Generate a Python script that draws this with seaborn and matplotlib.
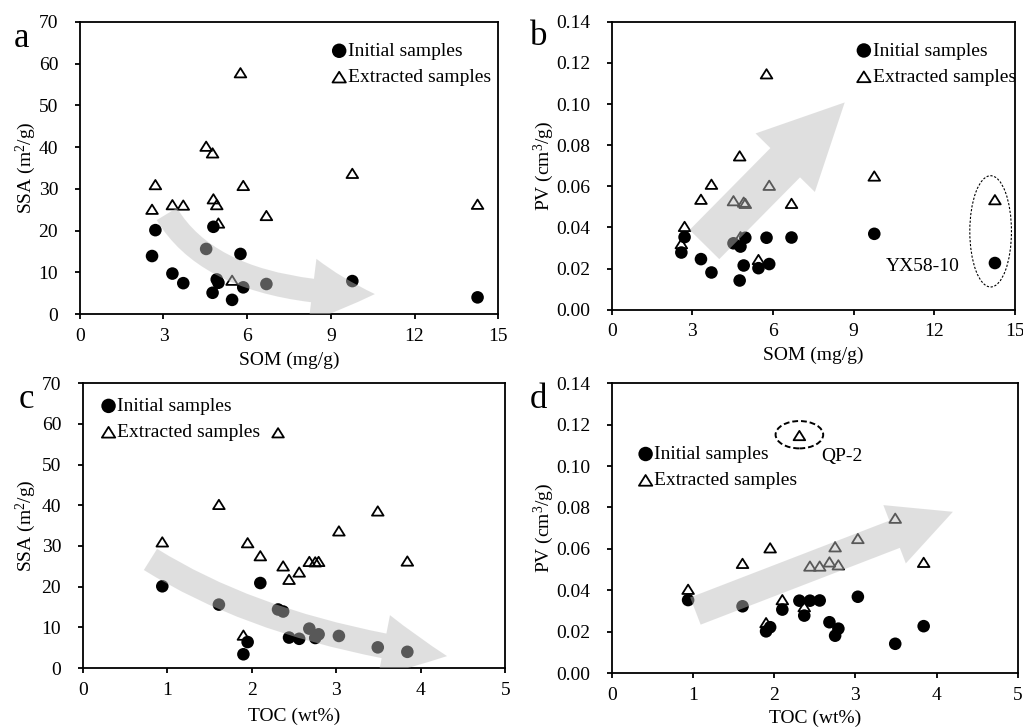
import numpy as np
import pandas as pd
import seaborn as sns
import matplotlib.pyplot as plt
from matplotlib.patches import FancyArrowPatch, ArrowStyle, Ellipse
from matplotlib.path import Path

# sample values (same 15 samples everywhere)
som = [2.59, 2.71, 3.32, 3.71, 4.53, 4.79, 4.76, 4.91, 4.97, 5.46, 5.76, 5.86, 6.69, 9.77, 14.26]
toc = [2.37, 0.94, 2.68, 2.75, 1.61, 2.10, 3.49, 2.79, 2.44, 1.90, 2.31, 1.95, 2.56, 3.03, 3.84]
ssa_initial = [13.9, 20.1, 9.7, 7.4, 15.6, 20.9, 5.1, 8.3, 7.5, 3.4, 14.4, 6.4, 7.2, 7.9, 4.0]
ssa_extracted = [25.1, 31.0, 26.2, 26.1, 40.2, 27.6, 38.6, 26.2, 21.8, 8.1, 57.8, 30.8, 23.6, 33.7, 26.3]
pv_initial = [0.0278, 0.0353, 0.0246, 0.0181, 0.0323, 0.0307, 0.0142, 0.0215, 0.0350, 0.0202,
              0.0350, 0.0222, 0.0351, 0.0369, 0.0227]
pv_extracted = [0.0321, 0.0405, 0.0537, 0.0610, 0.0530, 0.0355, 0.0748, 0.0523, 0.0517, 0.0244,
                0.1147, 0.0605, 0.0517, 0.0650, 0.0535]

som_ticks = [0, 3, 6, 9, 12, 15]
toc_ticks = [0, 1, 2, 3, 4, 5]
ssa_ticks = [0, 10, 20, 30, 40, 50, 60, 70]
pv_ticks = [0.00, 0.02, 0.04, 0.06, 0.08, 0.10, 0.12, 0.14]

LABEL_INIT = "Initial samples"
LABEL_EXT = "Extracted samples"

sns.set_style("ticks")
plt.rcParams['font.family'] = ['Liberation Serif', 'DejaVu Serif']
plt.rcParams['mathtext.fontset'] = 'custom'
plt.rcParams['mathtext.rm'] = 'Liberation Serif'
plt.rcParams['mathtext.it'] = 'Liberation Serif:italic'
plt.rcParams['text.color'] = 'black'
plt.rcParams['axes.labelcolor'] = 'black'
plt.rcParams['xtick.color'] = 'black'
plt.rcParams['ytick.color'] = 'black'

FS = 14
# hollow triangle a bit flatter than matplotlib's '^'
TRI = Path([(-1, -0.8), (1, -0.8), (0, 0.8), (-1, -0.8)],
           [Path.MOVETO, Path.LINETO, Path.LINETO, Path.CLOSEPOLY])
ARROW_COLOR = '#bdbdbd'
ARROW_ALPHA = 0.47


def panel(ax, x, y_init, y_ext, xticks, yticks, xlabel, ylabel, yfmt, leg_xy, ylab_x, xlab_y):
	df = pd.DataFrame({"x": x, "init": y_init, "ext": y_ext})
	# Extracted samples first so the filled circles sit on top
	sns.scatterplot(data=df, x="x", y="ext", ax=ax, marker=TRI, s=70, facecolor="none",
	                edgecolor="black", linewidth=1.3, label=LABEL_EXT, zorder=2)
	sns.scatterplot(data=df, x="x", y="init", ax=ax, marker="o", s=82, color="black",
	                edgecolor="none", linewidth=0, label=LABEL_INIT, zorder=3)
	ax.set_xlim(xticks[0], xticks[-1])
	ax.set_ylim(yticks[0], yticks[-1])
	ax.set_xticks(xticks)
	ax.set_yticks(yticks)
	ax.set_yticklabels([yfmt.format(v) for v in yticks])
	ax.tick_params(axis='both', labelsize=FS, direction='out', width=1.3, color='black')
	ax.tick_params(axis='y', length=3.6, pad=12)
	ax.tick_params(axis='x', length=3.8, pad=6)
	for sp in ax.spines.values():
		sp.set_color('black')
		sp.set_linewidth(1.3)
	ax.set_xlabel(xlabel, fontsize=FS)
	ax.set_ylabel(ylabel, fontsize=FS)
	ax.xaxis.set_label_coords(0.5, xlab_y)
	ax.yaxis.set_label_coords(ylab_x, 0.5)
	# Legend: Initial first, Extracted second
	h, l = ax.get_legend_handles_labels()
	order = [l.index(LABEL_INIT), l.index(LABEL_EXT)]
	ax.legend([h[i] for i in order], [l[i] for i in order], loc='upper left', bbox_to_anchor=leg_xy,
	          frameon=False, fontsize=FS, handlelength=0.6, handletextpad=0.15, labelspacing=0.45,
	          borderpad=0, borderaxespad=0, markerscale=1.15)


def add_arrow(ax, start, end, conn, head_len, head_w, tail_w):
	style = ArrowStyle.Simple(head_length=head_len, head_width=head_w, tail_width=tail_w)
	arr = FancyArrowPatch(start, end, arrowstyle=style, connectionstyle=conn, mutation_scale=1,
	                      shrinkA=0, shrinkB=0, facecolor=ARROW_COLOR, edgecolor='none', lw=0,
	                      alpha=ARROW_ALPHA, zorder=4)
	ax.add_patch(arr)


fig = plt.figure(figsize=(10.23, 7.27), dpi=100)
ax_a = fig.add_axes([0.078, 0.568, 0.409, 0.402])
ax_b = fig.add_axes([0.598, 0.574, 0.394, 0.396])
ax_c = fig.add_axes([0.081, 0.081, 0.413, 0.392])
ax_d = fig.add_axes([0.598, 0.074, 0.397, 0.399])

ssa_label = "SSA (m$^{2}$/g)"
pv_label = "PV (cm$^{3}$/g)"

panel(ax_a, som, ssa_initial, ssa_extracted, som_ticks, ssa_ticks, "SOM (mg/g)", ssa_label, "{:.0f}",
      (0.606, 0.93), -0.100, -0.129)
panel(ax_b, som, pv_initial, pv_extracted, som_ticks, pv_ticks, "SOM (mg/g)", pv_label, "{:.2f}",
      (0.611, 0.93), -0.139, -0.13)
panel(ax_c, toc, ssa_initial, ssa_extracted, toc_ticks, ssa_ticks, "TOC (wt%)", ssa_label, "{:.0f}",
      (0.047, 0.95), -0.106, -0.14)
panel(ax_d, toc, pv_initial, pv_extracted, toc_ticks, pv_ticks, "TOC (wt%)", pv_label, "{:.2f}",
      (0.069, 0.785), -0.138, -0.125)

# trend arrows (semi transparent, drawn over the points)
add_arrow(ax_a, (3.12, 23.97), (10.58, 4.79), "angle3,angleA=-59,angleB=0", 45, 46, 17)
add_arrow(ax_b, (3.45, 0.0317), (8.67, 0.1008), "arc3,rad=0", 61, 60, 30)
add_arrow(ax_c, (0.80, 26.7), (4.31, 2.95), "angle3,angleA=-32,angleB=-7.6", 46, 45, 18)
add_arrow(ax_d, (1.03, 0.0300), (4.20, 0.0779), "arc3,rad=0", 45, 45, 21)

# outlier call-outs
ax_b.add_patch(Ellipse((14.10, 0.0381), 1.55, 0.0541, fill=False, edgecolor='black', lw=0.8,
                       linestyle=(0, (2, 1.5)), zorder=5))
ax_b.text(11.56, 0.021, "YX58-10", fontsize=FS, ha='center', va='center')
ax_d.add_patch(Ellipse((2.31, 0.1151), 0.586, 0.0132, fill=False, edgecolor='black', lw=1.4,
                       linestyle=(0, (3, 1.5)), zorder=5))
ax_d.text(2.84, 0.1048, "QP-2", fontsize=FS, ha='center', va='center')

# panel letters
fig.text(0.013, 0.935, "a", fontsize=25, va='baseline')
fig.text(0.518, 0.938, "b", fontsize=25, va='baseline')
fig.text(0.018, 0.439, "c", fontsize=25, va='baseline')
fig.text(0.518, 0.439, "d", fontsize=25, va='baseline')

plt.savefig("out.png", dpi=100)
plt.close(fig)
